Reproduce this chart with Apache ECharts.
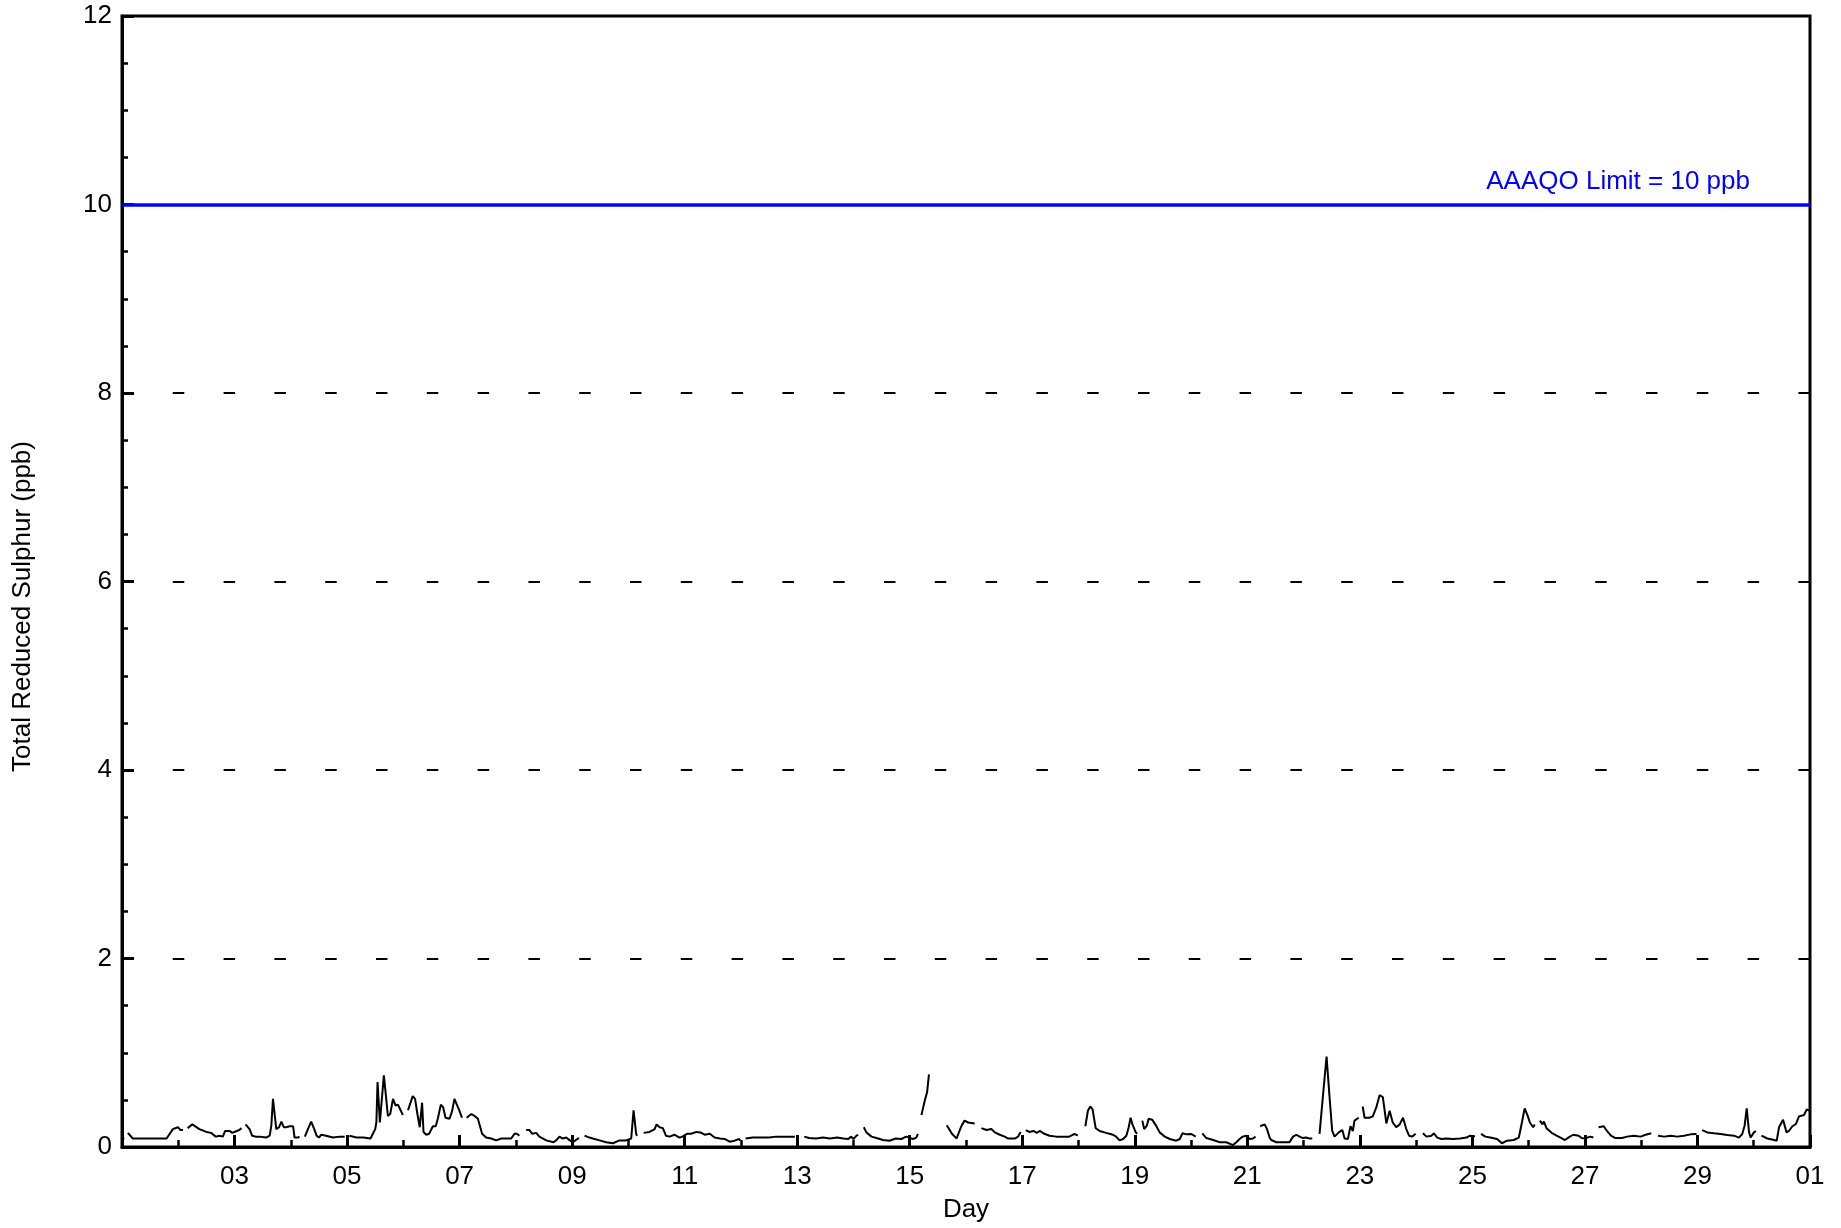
<!DOCTYPE html>
<html>
<head>
<meta charset="utf-8">
<style>
html,body{margin:0;padding:0;background:#fff;}
#chart{width:1841px;height:1228px;}
</style>
<script src="https://cdn.jsdelivr.net/npm/echarts@6/dist/echarts.min.js"></script>
</head>
<body>
<div id="chart"></div>
<script>
// Hours since 00:00 on day 01 (null value = data gap)
var hours = [
0,1,1.5,
2.5,4.6,8,12,16,19,21.7,23.8,25,26,27,
28,30,33,36,38,40,41.6,43,44,46,47,49,50,51,52,
52.7,54.4,55.5,57,58.7,61.5,63,63.7,64.4,65,65.8,67,68,69,70,71.5,73,73.6,75,75.7,77,
78,79.3,80.7,82,83,84,85,87,90,92.8,95,96,
97,100,103,106,108,108.5,109,110,110.6,111.7,112.7,113.4,114.4,115.6,116.7,117.7,118.4,119.8,121,
122,124,125,126,127,128,128.6,129.8,131,132.6,133.8,134.7,136,137,138,139.7,140.8,141.8,143,144,145,146,
147,149,150.4,151.8,153.6,155.3,157.5,159.6,161.8,163.9,166,167.4,168.4,169.5,171,
172.4,173.8,175,176.7,178,181,184,185.2,186.6,188,189.5,191,192.3,194.5,195,196,
197.3,199.4,200.8,203.7,206.5,209.4,212.2,215,217.2,218.2,219.3,219.7,221,
222.5,225,227.2,228,229.3,230.7,232,233.6,235.6,237.8,239,241,242.8,245,246.7,248.5,250.7,252.8,255,257,259.2,261.3,263.2,263.7,265,
266,269,273,276,279,283,287,289,
291,293,296,299,302,305,307.7,309.8,311,312,313.3,314,315,
316.4,317.5,319.7,321.8,324.6,327.4,330,332.4,334.5,337.4,338.8,339.5,340,
341,342.4,343.4,344.2,348,
351.8,354,356,357.5,358.4,359.4,360.9,363.7,365,
366.6,368.7,370.8,372.3,374.4,376.5,378,380.8,382.2,383.3,384.5,
385.5,387,388.8,390.2,391.6,393.4,395.6,398.5,401.3,404,406.3,407.7,409,
410.9,412,413,414,415.3,417,419.8,422.7,424,425.5,427,428.4,429.4,430.2,431,432.4,433,434,
435.2,436,437.2,437.9,438.6,439.4,441,442.6,444.8,446.9,449.7,451.2,452.3,454,456.1,458,459.5,
460.8,462.5,465.4,468.3,471,473.9,475.3,476.7,478,479.6,481,482.4,483.5,484.5,
485.5,487.4,488.4,489.5,490.2,492.4,495.2,498,499.5,500.9,502.3,503.7,505,506.5,507.7,509,
510.8,511.5,512.5,513.8,515,516.2,517.2,519,520.5,521.5,522.9,524,525,525.7,526.4,527.5,528.4,
529.2,530,532.1,533.5,535,536.4,537.8,538.5,539.3,540.7,542,543.5,545,546.4,547.8,549,550.3,551.8,553,
554.9,556.4,558.5,559.6,561,562.8,565,567.8,570.7,573.5,575,576.4,577,578.5,
579.7,581.5,583.6,586.5,588.6,590.8,593.6,595.8,597.2,598.3,599.6,600.5,601.9,602.6,603.7,
604.8,605.9,606.5,607.6,609.8,611.9,614,615.5,616.9,619,621.3,622.6,624,626.2,627.6,628.7,
629.8,632,633.4,635.1,637,639.8,642,644.9,647.7,649.9,652.3,653.7,
655.2,657.8,660.6,663.4,666.2,669.1,671.6,673,
674,676.2,679,681.9,684.7,687.6,689.7,691.1,692.1,693,694,694.7,696.1,696.9,698,
699.3,701.8,704.7,705.8,706.8,708.5,710,711,712.5,714,715.3,717.5,718.6,719.6
];
var trs = [
0.09,0.09,null,
0.15,0.09,0.09,0.09,0.09,0.09,0.19,0.21,0.18,0.18,null,
0.2,0.24,0.19,0.16,0.15,0.11,0.12,0.11,0.17,0.17,0.15,0.17,0.18,0.2,null,
0.24,0.19,0.12,0.11,0.11,0.1,0.12,0.23,0.51,0.49,0.19,0.21,0.27,0.21,0.21,0.22,0.22,0.1,0.1,0.11,null,
0.11,0.19,0.27,0.19,0.12,0.1,0.13,0.12,0.1,0.11,0.11,null,
0.12,0.1,0.1,0.09,0.19,0.26,0.69,0.26,0.44,0.76,0.51,0.33,0.35,0.51,0.44,0.45,0.46,0.34,null,
0.39,0.54,0.51,0.35,0.21,0.47,0.16,0.13,0.14,0.22,0.22,0.3,0.45,0.42,0.31,0.3,0.38,0.51,0.44,0.38,0.31,null,
0.31,0.35,0.33,0.3,0.14,0.1,0.09,0.07,0.09,0.09,0.09,0.14,0.14,0.12,null,
0.18,0.18,0.14,0.15,0.11,0.07,0.05,0.07,0.11,0.09,0.1,0.07,0.05,0.09,0.09,null,
0.12,0.1,0.09,0.07,0.05,0.04,0.07,0.07,0.09,0.39,0.14,0.12,null,
0.15,0.16,0.19,0.24,0.21,0.2,0.12,0.11,0.13,0.1,0.11,0.14,0.14,0.16,0.155,0.13,0.14,0.1,0.09,0.085,0.056,0.067,0.085,0.067,null,
0.09,0.1,0.1,0.1,0.11,0.11,0.11,null,
0.11,0.095,0.09,0.1,0.09,0.1,0.09,0.085,0.11,0.085,0.12,0.13,null,
0.21,0.155,0.11,0.095,0.074,0.067,0.09,0.085,0.11,0.085,0.1,0.14,null,
0.34,0.49,0.58,0.77,null,
0.23,0.14,0.09,0.19,0.24,0.28,0.26,0.25,null,
0.2,0.18,0.19,0.155,0.13,0.11,0.09,0.09,0.11,0.16,null,
0.18,0.16,0.17,0.15,0.17,0.14,0.12,0.11,0.11,0.11,0.14,0.12,null,
0.22,0.385,0.43,0.4,0.2,0.17,0.15,0.13,0.11,0.07,0.085,0.12,0.21,0.31,0.24,0.155,0.14,null,
0.28,0.19,0.23,0.3,0.28,0.29,0.23,0.155,0.11,0.085,0.067,0.085,0.145,0.134,0.138,0.11,null,
0.145,0.095,0.074,0.05,0.05,0.02,0.05,0.085,0.11,0.12,0.085,0.09,0.11,null,
0.22,0.24,0.19,0.1,0.074,0.05,0.05,0.05,0.11,0.13,0.11,0.095,0.1,0.09,0.09,null,
0.14,0.155,0.61,0.96,0.55,0.17,0.11,0.155,0.18,0.09,0.085,0.22,0.17,0.28,0.3,0.31,null,
0.43,0.31,0.31,0.325,0.42,0.55,0.53,0.51,0.25,0.385,0.26,0.21,0.24,0.31,0.19,0.12,0.11,0.14,null,
0.145,0.11,0.12,0.145,0.1,0.085,0.09,0.085,0.09,0.1,0.12,0.11,0.12,null,
0.14,0.11,0.1,0.085,0.04,0.067,0.074,0.1,0.27,0.41,0.33,0.26,0.21,0.24,null,
0.28,0.24,0.27,0.2,0.15,0.12,0.095,0.074,0.1,0.13,0.12,0.095,0.09,0.11,0.1,null,
0.21,0.22,0.17,0.12,0.095,0.095,0.11,0.12,0.11,0.13,0.145,null,
0.12,0.11,0.12,0.11,0.12,0.134,0.138,null,
0.18,0.155,0.145,0.138,0.127,0.12,0.1,0.138,0.226,0.41,0.155,0.1,0.155,0.17,null,
0.12,0.09,0.074,0.067,0.21,0.29,0.155,0.17,0.22,0.244,0.325,0.34,0.4,0.385
];
// Tick labels at every second day (hour 0, 48, ..., 720)
var dayTickLabels = ['','03','05','07','09','11','13','15','17','19','21','23','25','27','29','01'];
var limitValue = 10;
var limitLabel = 'AAAQO Limit = 10 ppb';
var yTitle = 'Total Reduced Sulphur (ppb)';
var xTitle = 'Day';

var seriesData = hours.map(function(h, i){ return [h, trs[i]]; });

var FONT = 'Liberation Sans, Arial, sans-serif';
var chart = echarts.init(document.getElementById('chart'));
chart.setOption({
  animation: false,
  backgroundColor: '#ffffff',
  grid: {left: 122, top: 16, width: 1688, height: 1133, show: true, borderColor: '#000', borderWidth: 3, backgroundColor: 'transparent'},
  xAxis: {
    type: 'value', min: 0, max: 720, interval: 48,
    name: xTitle, nameLocation: 'middle', nameGap: 50,
    nameTextStyle: {fontFamily: FONT, fontSize: 26, color: '#000'},
    axisLine: {show: true, lineStyle: {color: '#000', width: 3}},
    axisTick: {show: true, inside: true, length: 12, lineStyle: {color: '#000', width: 3}},
    minorTick: {show: true, splitNumber: 2, length: 7, lineStyle: {color: '#000', width: 2.5}},
    axisLabel: {fontFamily: FONT, fontSize: 26, color: '#000', margin: 17,
      formatter: function(v){ return dayTickLabels[Math.round(v / 48)]; }},
    splitLine: {show: false}
  },
  yAxis: {
    type: 'value', min: 0, max: 12, interval: 2,
    name: yTitle, nameLocation: 'middle', nameGap: 86, nameRotate: 90,
    nameTextStyle: {fontFamily: FONT, fontSize: 26, color: '#000', padding: [0, 50, 0, 0]},
    axisLine: {show: true, lineStyle: {color: '#000', width: 3}},
    axisTick: {show: true, inside: true, length: 12, lineStyle: {color: '#000', width: 3}},
    minorTick: {show: true, splitNumber: 4, length: 6, lineStyle: {color: '#000', width: 2.5}},
    axisLabel: {fontFamily: FONT, fontSize: 26, color: '#000', margin: 10},
    splitLine: {show: true, lineStyle: {color: '#000', width: 2, type: [11.5, 39.3]}}
  },
  series: [{
    type: 'line',
    data: seriesData,
    showSymbol: false,
    connectNulls: false,
    lineStyle: {color: '#000', width: 2},
    z: 3,
    markLine: {
      silent: true,
      symbol: ['none', 'none'],
      lineStyle: {color: '#0000ff', width: 3.5, type: 'solid'},
      label: {show: true, position: 'insideEndTop', formatter: limitLabel, color: '#0000ff',
        fontFamily: FONT, fontSize: 26, distance: 10, padding: [0, 50, 0, 0]},
      data: [{yAxis: limitValue}]
    }
  }]
});
</script>
</body>
</html>
